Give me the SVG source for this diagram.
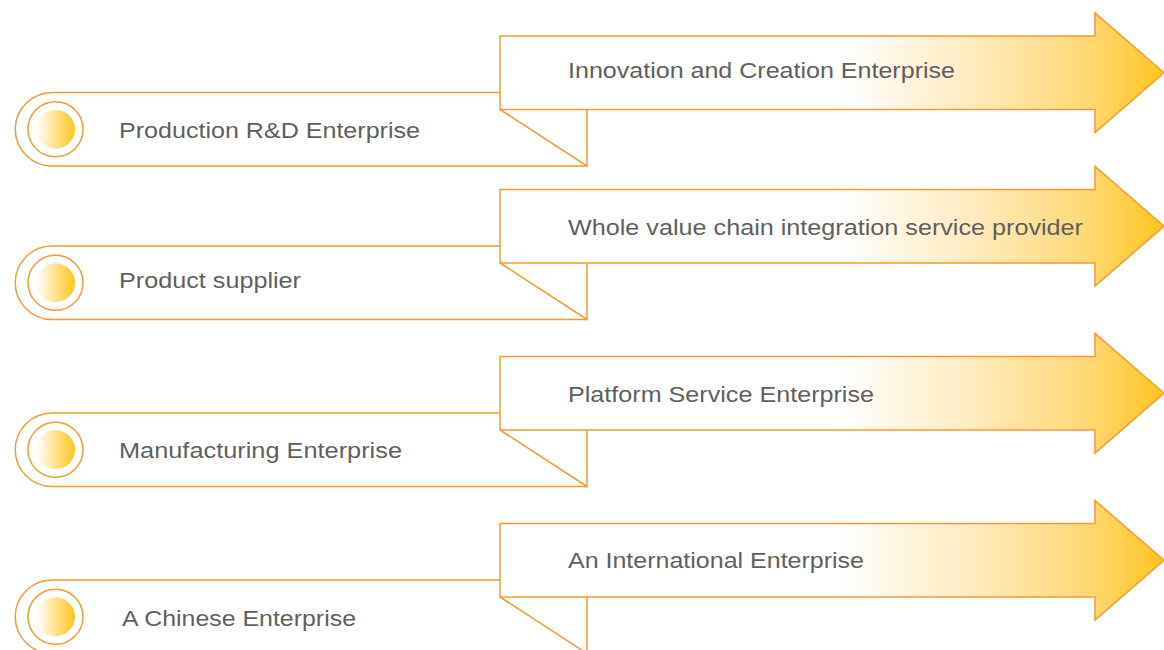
<svg xmlns="http://www.w3.org/2000/svg" width="1164" height="650" viewBox="0 0 1164 650">
  <defs>
    <linearGradient id="arrowGrad" gradientUnits="userSpaceOnUse" x1="840" y1="0" x2="1164" y2="0">
      <stop offset="0" stop-color="#FFFFFF"/>
      <stop offset="0.35" stop-color="#FFEEC8"/>
      <stop offset="0.75" stop-color="#FFD978"/>
      <stop offset="1" stop-color="#FFC41E"/>
    </linearGradient>
    <linearGradient id="dotGrad" x1="0" y1="0" x2="1" y2="0">
      <stop offset="0" stop-color="#FFFFFF"/>
      <stop offset="1" stop-color="#FFC41E"/>
    </linearGradient>
    <g id="rowShape">
      <path class="line" d="M500,92.5 H52 A36.75,36.75 0 0 0 52,166 H587"/>
      <circle class="line" cx="55.5" cy="129.25" r="27.5"/>
      <circle cx="55.5" cy="129.25" r="19.5" fill="url(#dotGrad)"/>
      <path class="arrow" d="M500,36 H1095 V13 L1164,72.75 L1095,132.5 V109.5 H500 Z"/>
      <path class="line" d="M500,109.5 L587,166 V109.5"/>
    </g>
  </defs>
  <style>
    .line { fill: none; stroke: #F59A32; stroke-width: 1.5; stroke-linejoin: miter; }
    .arrow { fill: url(#arrowGrad); stroke: #F59A32; stroke-width: 1.5; stroke-linejoin: miter; }
    .lbl { font-family: "Liberation Sans", Arial, sans-serif; font-size: 22px; fill: #5F5F5F; }
  </style>

  <g id="connectors"></g>

  <g id="row1">
    <use href="#rowShape"/>
    <text class="lbl" x="119" y="137.5" textLength="301" lengthAdjust="spacingAndGlyphs">Production R&amp;D Enterprise</text>
    <text class="lbl" x="568" y="78" textLength="387" lengthAdjust="spacingAndGlyphs">Innovation and Creation Enterprise</text>
  </g>

  <g id="row2">
    <use href="#rowShape" transform="translate(0,153.5)"/>
    <text class="lbl" x="119" y="288.3" textLength="182" lengthAdjust="spacingAndGlyphs">Product supplier</text>
    <text class="lbl" x="568" y="235" textLength="515" lengthAdjust="spacingAndGlyphs">Whole value chain integration service provider</text>
  </g>

  <g id="row3">
    <use href="#rowShape" transform="translate(0,320.5)"/>
    <text class="lbl" x="119" y="458.3" textLength="283" lengthAdjust="spacingAndGlyphs">Manufacturing Enterprise</text>
    <text class="lbl" x="568" y="401.7" textLength="306" lengthAdjust="spacingAndGlyphs">Platform Service Enterprise</text>
  </g>

  <g id="row4">
    <use href="#rowShape" transform="translate(0,487.5)"/>
    <text class="lbl" x="122" y="626" textLength="234" lengthAdjust="spacingAndGlyphs">A Chinese Enterprise</text>
    <text class="lbl" x="568" y="567.7" textLength="296" lengthAdjust="spacingAndGlyphs">An International Enterprise</text>
  </g>
</svg>
